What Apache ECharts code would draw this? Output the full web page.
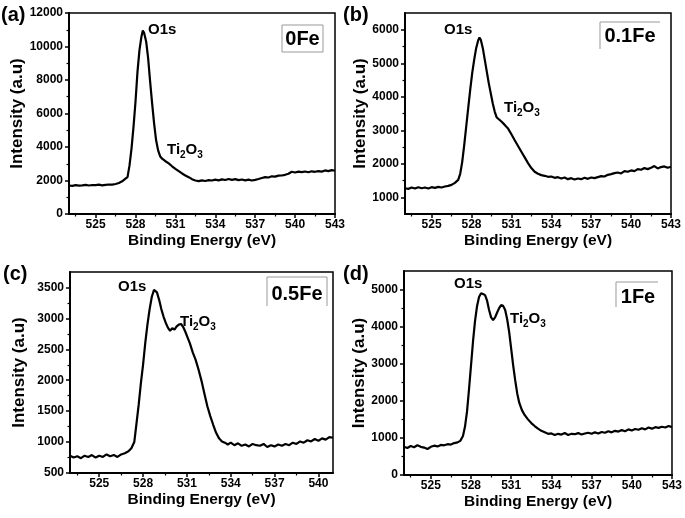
<!DOCTYPE html>
<html>
<head>
<meta charset="utf-8">
<script src="https://cdn.jsdelivr.net/npm/echarts@6/dist/echarts.min.js"></script>
<style>html,body{margin:0;padding:0;background:#fff}#chart{width:685px;height:518px}</style>
</head>
<body>
<div id="chart"></div>
<script>
// ---------- DATA ----------
const energyA = [523.0,523.25,523.5,523.75,524.0,524.25,524.5,524.75,525.0,525.25,525.5,525.75,526.0,526.25,526.5,526.75,527.0,527.2,527.4,527.55,527.7,527.85,528.0,528.15,528.3,528.45,528.55,528.65,528.8,528.95,529.1,529.25,529.4,529.55,529.7,529.85,530.0,530.25,530.5,530.75,531.0,531.25,531.5,531.75,532.0,532.25,532.5,532.75,533.0,533.25,533.5,533.75,534.0,534.25,534.5,534.75,535.0,535.25,535.5,535.75,536.0,536.25,536.5,536.75,537.0,537.25,537.5,537.75,538.0,538.25,538.5,538.75,539.0,539.25,539.5,539.75,540.0,540.25,540.5,540.75,541.0,541.25,541.5,541.75,542.0,542.25,542.5,542.75,543.0];
const intensityA = [1700,1680,1720,1690,1710,1740,1700,1730,1720,1750,1710,1740,1760,1750,1790,1850,1950,2080,2200,2900,3900,5200,6700,8500,9800,10600,10950,10800,10300,9300,7900,6600,5400,4400,3800,3450,3300,3150,3020,2850,2700,2560,2420,2300,2200,2080,2000,1960,2010,1970,2020,2000,2050,2010,2070,2030,2090,2040,2080,2020,2060,2010,2050,2000,2040,2090,2150,2200,2180,2250,2230,2290,2300,2340,2400,2520,2480,2530,2500,2540,2490,2550,2520,2560,2530,2600,2560,2620,2580];

const energyB = [523.0,523.25,523.5,523.75,524.0,524.25,524.5,524.75,525.0,525.25,525.5,525.75,526.0,526.25,526.5,526.75,527.0,527.15,527.3,527.45,527.6,527.75,527.9,528.05,528.2,528.35,528.5,528.6,528.7,528.85,529.0,529.15,529.3,529.45,529.6,529.75,529.9,530.05,530.25,530.5,530.75,531.0,531.25,531.5,531.75,532.0,532.25,532.5,532.75,533.0,533.25,533.5,533.75,534.0,534.25,534.5,534.75,535.0,535.25,535.5,535.75,536.0,536.25,536.5,536.75,537.0,537.25,537.5,537.75,538.0,538.25,538.5,538.75,539.0,539.25,539.5,539.75,540.0,540.25,540.5,540.75,541.0,541.25,541.5,541.75,542.0,542.25,542.5,542.75,543.0];
const intensityB = [1270,1250,1290,1260,1300,1270,1290,1260,1300,1280,1310,1290,1320,1340,1370,1430,1520,1700,2050,2550,3100,3650,4200,4700,5100,5450,5680,5770,5700,5450,5100,4750,4400,4100,3800,3550,3380,3330,3260,3160,3050,2880,2700,2530,2360,2190,2020,1870,1760,1700,1660,1640,1610,1620,1580,1600,1560,1590,1540,1570,1530,1560,1540,1580,1550,1590,1570,1600,1630,1620,1670,1690,1720,1740,1710,1780,1760,1800,1780,1840,1820,1870,1840,1880,1930,1860,1900,1920,1880,1910];

const energyC = [523.0,523.25,523.5,523.75,524.0,524.25,524.5,524.75,525.0,525.25,525.5,525.75,526.0,526.25,526.5,526.75,527.0,527.2,527.4,527.55,527.7,527.85,528.0,528.15,528.3,528.45,528.6,528.75,528.85,528.95,529.1,529.25,529.4,529.55,529.7,529.85,530.0,530.15,530.3,530.45,530.6,530.75,530.9,531.05,531.2,531.4,531.6,531.8,532.0,532.2,532.4,532.6,532.8,533.0,533.2,533.4,533.6,533.8,534.0,534.25,534.5,534.75,535.0,535.25,535.5,535.75,536.0,536.25,536.5,536.75,537.0,537.25,537.5,537.75,538.0,538.25,538.5,538.75,539.0,539.25,539.5,539.75,540.0,540.25,540.5,540.75,541.0];
const intensityC = [780,750,770,740,780,760,790,750,780,760,800,770,790,760,800,820,850,900,1000,1300,1600,1950,2250,2600,2900,3150,3350,3460,3440,3420,3300,3150,3030,2930,2850,2800,2840,2820,2870,2900,2910,2860,2780,2690,2600,2450,2330,2170,1990,1780,1580,1420,1280,1150,1060,1010,990,960,990,950,980,940,960,930,970,950,940,970,920,950,930,960,940,970,950,990,970,1010,990,1030,1010,1050,1020,1060,1040,1080,1070];

const energyD = [523.0,523.25,523.5,523.75,524.0,524.25,524.5,524.75,525.0,525.25,525.5,525.75,526.0,526.25,526.5,526.75,527.0,527.2,527.4,527.55,527.7,527.85,528.0,528.15,528.3,528.45,528.6,528.75,528.9,529.05,529.2,529.35,529.5,529.65,529.8,529.95,530.1,530.25,530.4,530.55,530.7,530.85,531.0,531.15,531.3,531.45,531.6,531.8,532.0,532.25,532.5,532.75,533.0,533.25,533.5,533.75,534.0,534.25,534.5,534.75,535.0,535.25,535.5,535.75,536.0,536.25,536.5,536.75,537.0,537.25,537.5,537.75,538.0,538.25,538.5,538.75,539.0,539.25,539.5,539.75,540.0,540.25,540.5,540.75,541.0,541.25,541.5,541.75,542.0,542.25,542.5,542.75,543.0];
const intensityD = [760,730,780,750,800,760,740,700,760,790,770,810,800,830,820,860,880,920,1050,1300,1700,2300,2950,3600,4150,4550,4800,4900,4880,4850,4700,4450,4250,4180,4250,4380,4500,4580,4560,4450,4200,3850,3400,2950,2550,2200,1950,1750,1620,1500,1400,1320,1250,1190,1150,1110,1120,1080,1110,1090,1130,1080,1110,1100,1130,1090,1120,1140,1110,1150,1120,1160,1140,1180,1150,1190,1170,1210,1180,1230,1200,1240,1220,1260,1230,1280,1250,1290,1270,1300,1280,1320,1290];

const xTicksMajor = [525,528,531,534,537,540,543];
const xTicksMajorC = [525,528,531,534,537,540];
const xTicksMinor = [523.5,526.5,529.5,532.5,535.5,538.5,541.5];
const xTicksMinorC = [523.5,526.5,529.5,532.5,535.5,538.5];
const yTicksA = [0,2000,4000,6000,8000,10000,12000];
const yMinorA = [1000,3000,5000,7000,9000,11000];
const yTicksB = [1000,2000,3000,4000,5000,6000];
const yMinorB = [1500,2500,3500,4500,5500];
const yTicksC = [500,1000,1500,2000,2500,3000,3500];
const yMinorC = [750,1250,1750,2250,2750,3250];
const yTicksD = [0,1000,2000,3000,4000,5000];
const yMinorD = [500,1500,2500,3500,4500];

const xName = 'Binding Energy (eV)';
const yName = 'Intensity (a.u)';

// ---------- CHART ----------
const FONT = '"Liberation Sans", Arial, sans-serif';
const panels = [
  {grid:{left:69, top:13, width:266, height:201}, xr:[523,543], yr:[0,12000], xt:xTicksMajor, xm:xTicksMinor, yt:yTicksA, ym:yMinorA, e:energyA, v:intensityA, gap:41},
  {grid:{left:405, top:13, width:266, height:201}, xr:[523,543], yr:[500,6500], xt:xTicksMajor, xm:xTicksMinor, yt:yTicksB, ym:yMinorB, e:energyB, v:intensityB, gap:35},
  {grid:{left:70, top:272, width:263, height:201}, xr:[523,541], yr:[500,3750], xt:xTicksMajorC, xm:xTicksMinorC, yt:yTicksC, ym:yMinorC, e:energyC, v:intensityC, gap:42},
  {grid:{left:404, top:271, width:268, height:204}, xr:[523,543], yr:[0,5500], xt:xTicksMajor, xm:xTicksMinor, yt:yTicksD, ym:yMinorD, e:energyD, v:intensityD, gap:35}
];

const grids = [], xAxes = [], yAxes = [], series = [];
const labStyle = {fontSize:12, fontWeight:'bold', color:'#000', fontFamily:FONT, formatter:(v) => String(v)};
panels.forEach((p, i) => {
  grids.push(Object.assign({show:true, borderColor:'#000', borderWidth:1.5, backgroundColor:'transparent'}, p.grid));
  xAxes.push({gridIndex:i, type:'value', min:p.xr[0], max:p.xr[1], position:'bottom',
    axisLine:{show:true, onZero:false, lineStyle:{color:'#000', width:2}},
    axisTick:{show:true, inside:false, length:4, lineStyle:{color:'#000', width:1.5}, customValues:p.xt},
    axisLabel:Object.assign({customValues:p.xt, margin:5}, labStyle),
    splitLine:{show:false},
    name:xName, nameLocation:'middle', nameGap:19,
    nameTextStyle:{fontSize:15.5, fontWeight:'bold', color:'#000', fontFamily:FONT}});
  xAxes.push({gridIndex:i, type:'value', min:p.xr[0], max:p.xr[1], position:'bottom',
    axisLine:{show:false}, axisTick:{show:true, length:2.5, lineStyle:{color:'#000', width:1.2}, customValues:p.xm},
    axisLabel:{show:false}, splitLine:{show:false}});
  yAxes.push({gridIndex:i, type:'value', min:p.yr[0], max:p.yr[1], position:'left',
    axisLine:{show:true, onZero:false, lineStyle:{color:'#000', width:2}},
    axisTick:{show:true, inside:false, length:4, lineStyle:{color:'#000', width:1.5}, customValues:p.yt},
    axisLabel:Object.assign({customValues:p.yt, margin:6}, labStyle),
    splitLine:{show:false},
    name:yName, nameLocation:'middle', nameGap:p.gap, nameRotate:90,
    nameTextStyle:{fontSize:17, fontWeight:'bold', color:'#000', fontFamily:FONT}});
  yAxes.push({gridIndex:i, type:'value', min:p.yr[0], max:p.yr[1], position:'left',
    axisLine:{show:false}, axisTick:{show:true, length:2.5, lineStyle:{color:'#000', width:1.2}, customValues:p.ym},
    axisLabel:{show:false}, splitLine:{show:false}});
  series.push({type:'line', xAxisIndex:2*i, yAxisIndex:2*i, showSymbol:false, symbol:'none',
    lineStyle:{color:'#000', width:2.2}, data:p.e.map((x, k) => [x, p.v[k]]), animation:false});
});

function txt(x, y, text, size, align, valign, rich) {
  const st = {text:text, x:x, y:y, fill:'#000', font:'bold ' + size + 'px ' + FONT, textAlign:align || 'left', textVerticalAlign:valign || 'middle'};
  if (rich) st.rich = rich;
  return {type:'text', style:st, z:10};
}
const subRich = {
  m:{fontSize:15, fontWeight:'bold', fontFamily:FONT, fill:'#000', verticalAlign:'top', lineHeight:18},
  s:{fontSize:10, fontWeight:'bold', fontFamily:FONT, fill:'#000', verticalAlign:'bottom', lineHeight:10, padding:[8,0,0,0]}
};
function line(pts) {
  return {type:'polyline', shape:{points:pts}, style:{stroke:'#999', lineWidth:1, fill:null}, z:5};
}
const graphics = [
  txt(1, 15, '(a)', 20), txt(343, 15, '(b)', 20), txt(3, 274, '(c)', 20), txt(343, 274, '(d)', 20),
  {type:'rect', shape:{x:282, y:25, width:41, height:27}, style:{stroke:'#999', lineWidth:1, fill:'#fff'}, z:5},
  txt(302.5, 39, '0Fe', 20, 'center'),
  line([[600,49],[600,22],[660,22]]),
  txt(630, 36, '0.1Fe', 20, 'center'),
  line([[267,306],[267,277],[327,277],[327,306]]),
  txt(297, 294, '0.5Fe', 20, 'center'),
  line([[616,307],[616,282],[658,282]]),
  txt(638, 297, '1Fe', 20, 'center'),
  txt(148, 30, 'O1s', 15), txt(444, 30, 'O1s', 15), txt(118, 287, 'O1s', 15), txt(454, 284, 'O1s', 15),
  txt(167, 151, '{m|Ti}{s|2}{m|O}{s|3}', 15, 'left', 'middle', subRich),
  txt(504, 109, '{m|Ti}{s|2}{m|O}{s|3}', 15, 'left', 'middle', subRich),
  txt(180, 323, '{m|Ti}{s|2}{m|O}{s|3}', 15, 'left', 'middle', subRich),
  txt(510, 320, '{m|Ti}{s|2}{m|O}{s|3}', 15, 'left', 'middle', subRich)
];

const chart = echarts.init(document.getElementById('chart'), null, {renderer:'canvas'});
chart.setOption({
  animation:false, backgroundColor:'#fff',
  grid:grids, xAxis:xAxes, yAxis:yAxes, series:series, graphic:graphics
});
</script>
</body>
</html>
